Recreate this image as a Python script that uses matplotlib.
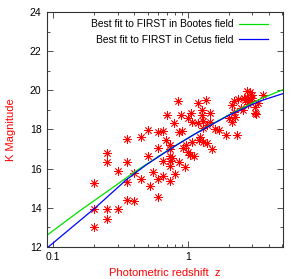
import numpy as np
import matplotlib
matplotlib.use("Agg")
import matplotlib.pyplot as plt
from matplotlib.ticker import MultipleLocator, FixedLocator, FixedFormatter, NullFormatter, LogLocator

plt.rcParams['font.family'] = ['Liberation Sans', 'DejaVu Sans']

# photometric redshift / K magnitude of the FIRST sources
z_pts = [0.20, 0.20, 0.20, 0.25, 0.25, 0.25, 0.25, 0.30, 0.30,
         0.35, 0.35, 0.35, 0.35, 0.40, 0.40, 0.45, 0.45, 0.50, 0.50,
         0.52, 0.55, 0.60, 0.60, 0.60, 0.60, 0.65, 0.65, 0.65, 0.68,
         0.74, 0.74, 0.74, 0.74, 0.74, 0.74, 0.76, 0.80, 0.85, 0.95,
         1.00, 1.035, 1.10, 0.92, 0.96, 1.07, 1.20, 1.30, 1.375, 1.50,
         0.86, 0.90, 1.58, 1.70, 1.90, 2.30,
         0.848, 1.19, 1.35, 0.695, 0.887, 1.047, 1.005, 1.065, 1.26, 1.26,
         1.455, 0.79, 1.19, 1.375, 1.30, 1.30, 1.455, 1.22,
         2.88, 2.72, 2.96, 3.58, 2.36, 2.11, 2.20, 3.13, 3.13, 2.57,
         2.23, 2.11, 2.65, 2.90, 2.80, 3.30, 2.60, 3.00, 2.75, 2.20,
         2.00, 3.20, 2.45]
k_pts = [15.28, 13.93, 13.04, 16.78, 16.34, 13.96, 13.41, 13.93, 15.90,
         17.50, 16.33, 15.34, 14.40, 14.35, 15.80, 15.47, 17.60, 16.66, 17.97,
         15.12, 15.83, 17.07, 15.45, 14.57, 17.89, 15.63, 16.38, 17.94, 17.46,
         17.20, 17.00, 16.65, 16.40, 16.15, 15.37, 16.55, 15.75, 16.35, 16.10,
         16.87, 16.70, 16.62, 17.04, 17.22, 17.35, 17.46, 17.38, 17.30, 17.00,
         17.89, 17.90, 18.00, 17.97, 17.72, 17.72,
         19.46, 19.37, 19.50, 18.74, 18.74, 18.83, 18.57, 18.40, 19.00, 18.74,
         18.83, 18.32, 18.32, 18.23, 18.05, 18.45, 18.40, 17.60,
         19.93, 19.68, 19.60, 19.76, 19.54, 19.25, 19.45, 19.13, 18.83, 19.00,
         18.65, 18.40, 19.50, 19.45, 19.30, 19.35, 19.60, 19.75, 19.95, 18.90,
         18.60, 18.80, 19.10]

# best fit curves
z_bootes = [0.09, 0.154, 0.272, 0.405, 0.48, 0.62, 0.825, 1.095, 1.455, 2.05, 3.41, 5.05]
k_bootes = [12.60, 13.80, 15.00, 15.85, 16.18, 16.68, 17.22, 17.73, 18.22, 18.78, 19.55, 20.03]
z_cetus = [0.092, 0.205, 0.347, 0.48, 0.62, 0.825, 1.095, 1.455, 2.05, 3.41, 5.05]
k_cetus = [12.00, 14.00, 15.42, 16.15, 16.66, 17.21, 17.72, 18.20, 18.76, 19.45, 19.83]

fig = plt.figure(figsize=(3.0, 2.79), dpi=100)
ax = fig.add_axes([0.157, 0.115, 0.786, 0.842])

ax.plot(z_pts, k_pts, linestyle='none', marker=(8, 2, 0), markersize=6,
        markeredgewidth=0.6, color='#ff0000')
ax.plot(z_bootes, k_bootes, color='#00e000', lw=0.9,
        label='Best fit to FIRST in Bootes field')
ax.plot(z_cetus, k_cetus, color='#0000ff', lw=0.9,
        label='Best fit to FIRST in Cetus field')

ax.set_xscale('log')
ax.set_xlim(0.09, 5.05)
ax.set_ylim(12, 24)
ax.xaxis.set_major_locator(FixedLocator([0.1, 1]))
ax.xaxis.set_major_formatter(FixedFormatter(['0.1', '1']))
ax.xaxis.set_minor_locator(LogLocator(base=10, subs=np.arange(2, 10)))
ax.xaxis.set_minor_formatter(NullFormatter())
ax.yaxis.set_major_locator(MultipleLocator(2))
ax.yaxis.set_minor_locator(MultipleLocator(1))

ax.tick_params(which='both', direction='in', top=True, right=True,
               labelsize=7.5, width=0.6, color='#333333')
ax.tick_params(which='major', length=4, pad=4)
ax.tick_params(which='minor', length=2.5)
for s in ax.spines.values():
    s.set_linewidth(0.8)
    s.set_color('#333333')

ax.set_xlabel('Photometric redshift  z', color='red', fontsize=8, labelpad=4)
ax.set_ylabel('K Magnitude', color='red', fontsize=8, labelpad=10)

ax.legend(loc='upper right', bbox_to_anchor=(0.968, 1.0), frameon=False,
          markerfirst=False, fontsize=7.4, handlelength=2.8, labelspacing=0.55,
          borderaxespad=0.3, handletextpad=0.6)

fig.savefig('out.png', dpi=100)
